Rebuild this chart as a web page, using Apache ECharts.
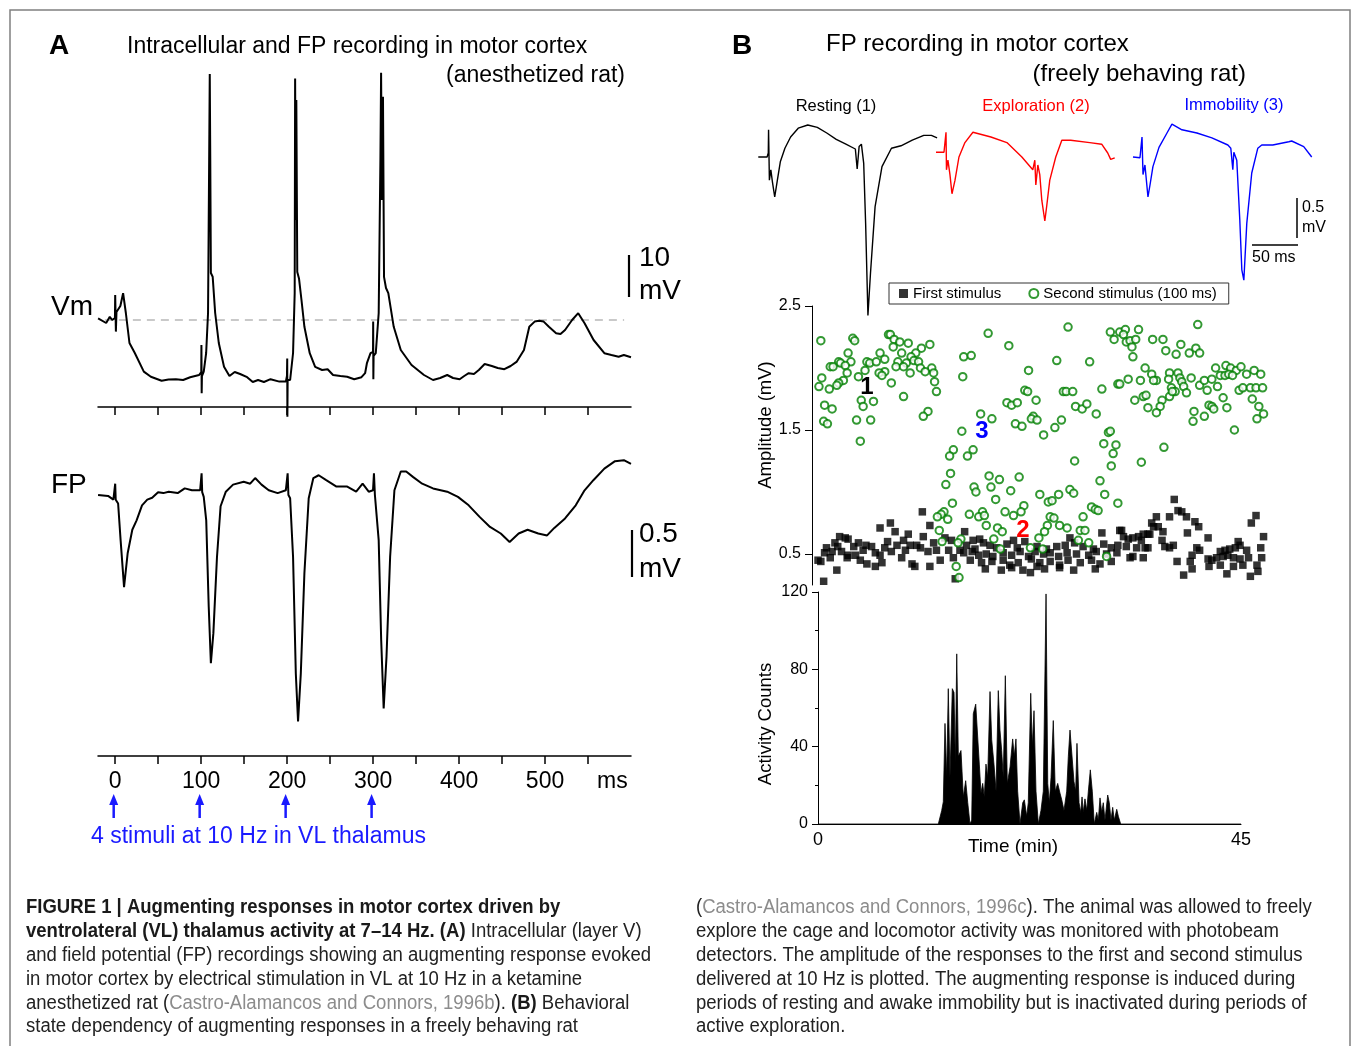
<!DOCTYPE html>
<html><head><meta charset="utf-8">
<script src="https://cdn.jsdelivr.net/npm/echarts@6/dist/echarts.min.js"></script>
<style>html,body{margin:0;padding:0;background:#fff}#c{width:1352px;height:1046px}</style>
</head><body><div id="c"></div>
<script>
// ---------- Panel A data (time in ms, Vm in mV relative to dashed level, FP in mV) ----------
const vmTrace = [[-19.9,0.4],[-10.5,-0.75],[-6.3,0.8],[-3.5,0],[-0.3,0.5],[0,6.25],[0.8,-2.9],[1.5,2],[3.4,1.75],[6,3.5],[9.2,6.7],[12.4,1.75],[16.6,-5.75],[22.8,-8.25],[33.3,-12.9],[41.5,-14.2],[54,-15.2],[62,-14.9],[70.6,-14.8],[79,-15],[87.2,-14.3],[97.6,-13.75],[100.1,-13],[100.3,-6.25],[100.6,-18.3],[100.9,-14],[103,-12.9],[105.8,-8.25],[108,1.75],[109.3,40],[110,61.5],[110.6,40],[111.3,11.75],[113.4,10.8],[116.3,1.75],[120.5,-5.75],[126.6,-11.7],[132.9,-14],[139,-13],[145.3,-13.5],[153.5,-14.3],[160,-15.5],[166.2,-15],[173,-15.5],[180.7,-14.8],[191,-15.4],[198.5,-15.4],[199.8,-14],[200.1,-9.6],[200.3,-24.2],[200.6,-15],[203.5,-15],[206.9,-8.25],[208.8,6.75],[209.3,60.4],[210,25],[210.7,55],[211.8,12],[213.8,10.4],[216.7,5],[220.1,-1.7],[226.3,-8.3],[232.6,-11.7],[240.7,-12.5],[247.1,-12.3],[253.4,-13.75],[262,-14],[269.8,-14.2],[278,-14.8],[286.5,-14.3],[290.7,-13.3],[292.8,-10.8],[294,-10.5],[297,-8.3],[299.9,-8],[300.1,-0.4],[300.3,-14.8],[300.6,-9],[303.1,-8.3],[306.5,1.7],[308.5,40],[309.3,61.8],[310.3,30],[311.5,55.8],[312.7,10.8],[315,8],[317.7,6.7],[324,-1.7],[332.2,-7.5],[344.7,-11.25],[359.2,-13.75],[369.7,-15],[378,-14.5],[386.2,-13.75],[393,-14.5],[400.7,-14.8],[406,-14],[411.2,-13.3],[417.3,-13.5],[423,-12.5],[429.8,-11],[438.1,-11.5],[445,-12],[452.7,-12.3],[460,-11.5],[467.2,-10.4],[475.5,-7.5],[481.7,-1.7],[487.9,-0.4],[493,-0.2],[498.4,-0.4],[504.5,-1.7],[512.9,-3.3],[518,-3.5],[523.3,-2.5],[531.5,0],[538.6,1.7],[546,-0.8],[556.5,-5],[569,-8.3],[577.2,-8.75],[585.6,-9.2],[591.7,-8.75],[600,-9.3]];
const restLevel = [[-12,0],[592,0]];
const fpTrace = [[-19.9,0],[-8.3,-0.01],[-2.1,-0.05],[-0.2,-0.03],[0,0.12],[0.6,-0.05],[3.4,-0.09],[6.3,-0.48],[10.3,-0.98],[14.5,-0.62],[19.9,-0.37],[24.9,-0.27],[31.2,-0.11],[37.3,-0.05],[43,-0.03],[49.9,0.03],[56,0.02],[62.3,0.035],[72.7,0.02],[80.9,0.07],[89.3,0.05],[98.8,0.05],[100.5,0.23],[101.2,0.03],[103,-0.02],[105.9,-0.27],[108.8,-1.19],[111.3,-1.79],[114.2,-1.47],[118.4,-0.66],[122.6,-0.12],[128.7,0.035],[137.1,0.11],[149.5,0.14],[157,0.12],[162.8,0.18],[170.2,0.11],[178.6,0.05],[189,0.02],[198.5,0.05],[200.6,0.23],[201.5,0],[203.5,-0.035],[206.9,-0.66],[210.1,-1.9],[212.7,-2.41],[215.9,-1.9],[220.1,-0.83],[225.1,-0.035],[230.5,0.18],[236.7,0.21],[245,0.16],[257.4,0.09],[269.9,0.09],[280.3,0.035],[287.8,0.12],[294.9,0.035],[299.9,0.05],[301,0.23],[302.1,0],[303.1,-0.02],[306.5,-0.48],[309.4,-1.54],[312.3,-2.27],[315.6,-1.72],[319.8,-0.66],[324.8,0.05],[332.2,0.25],[338.5,0.25],[346.7,0.19],[357.1,0.12],[369.7,0.07],[386.2,0.035],[398.7,-0.02],[411.2,-0.11],[423.6,-0.23],[436,-0.34],[448.5,-0.41],[458.8,-0.5],[469.3,-0.41],[479.7,-0.37],[492.1,-0.41],[502.4,-0.43],[510.8,-0.35],[523.3,-0.25],[535.7,-0.11],[546,0.05],[556.5,0.16],[569,0.28],[581.4,0.36],[591.7,0.37],[600,0.33]];
const stimTimes = [0, 100, 200, 300];
const timeTicksA = [0,50,100,150,200,250,300,350,400,450,500,550];
const timeLabelsA = [0,100,200,300,400,500];

// ---------- Panel B traces (ms from sweep start, mV) ----------
const restingTrace = [[0.3,0],[9.9,0],[11.2,0.05],[11.5,0.34],[12.4,-0.29],[14,-0.16],[15.7,-0.31],[18.2,-0.5],[21.1,-0.29],[24.3,-0.06],[29.3,0.11],[35.5,0.25],[43.8,0.36],[54.2,0.4],[64.6,0.37],[74.9,0.3],[85.2,0.22],[95.7,0.16],[106,0.1],[108,-0.15],[110.1,0.13],[112.6,0.16],[115.1,-0.08],[117.2,-0.83],[119.7,-1.98],[122.5,-1.45],[127.5,-0.62],[135,-0.12],[145.3,0.11],[155.7,0.14],[168,0.21],[180.5,0.27],[188.8,0.27],[195,0.24]];
const explorationTrace = [[0,0.06],[8.7,0.06],[10.9,0.31],[11.4,-0.16],[13,-0.04],[15.2,-0.22],[17.4,-0.46],[20.7,-0.29],[25,0],[31.5,0.18],[40.2,0.31],[59.8,0.25],[77.2,0.18],[93.5,0],[105.4,-0.16],[107.6,-0.04],[108.7,-0.35],[110.9,-0.1],[113,-0.22],[115.2,-0.54],[118.5,-0.8],[120.7,-0.6],[123.9,-0.29],[130.4,0],[137,0.21],[146.7,0.21],[167.4,0.18],[180.4,0.16],[187,0.05],[190.2,-0.03],[194.6,-0.01]];
const immobilityTrace = [[0,0],[7.6,-0.01],[9.8,0.25],[10.9,-0.22],[13,-0.1],[16.3,-0.5],[18.5,-0.35],[21.7,-0.12],[28.3,0.12],[37,0.3],[42.4,0.41],[53.3,0.34],[69.6,0.3],[85.9,0.24],[103.3,0.15],[106.5,0.11],[108.7,-0.16],[109.8,0.06],[113,-0.04],[116.3,-0.79],[118.5,-1.41],[120.7,-1.54],[123.9,-0.83],[129.3,-0.2],[135.9,0.11],[140.2,0.15],[152.2,0.15],[169.6,0.19],[172.8,0.2],[185.9,0.13],[194.6,0]];

// ---------- Panel B amplitudes (time in min, amplitude in mV) ----------
const firstStim = [[11.1,0.84],[7.7,0.75],[6.6,0.71],[11.9,0.73],[8.2,0.68],[9.6,0.66],[2.3,0.64],[2.9,0.63],[3.2,0.62],[1.8,0.59],[4.3,0.59],[9.1,0.61],[11.2,0.64],[12.3,0.59],[0.9,0.55],[3.8,0.56],[5.7,0.56],[7.1,0.55],[8.4,0.57],[10.5,0.57],[13.5,0.63],[14.2,0.61],[0.7,0.51],[1.5,0.52],[2.5,0.52],[3.2,0.49],[4.8,0.53],[6.1,0.51],[7.8,0.52],[9.3,0.53],[10.9,0.55],[12.6,0.53],[13.9,0.53],[15.1,0.53],[0.0,0.45],[0.3,0.44],[1.3,0.47],[3.1,0.47],[4.5,0.45],[5.2,0.42],[6.1,0.40],[6.8,0.43],[8.9,0.47],[10.0,0.42],[10.3,0.40],[11.9,0.40],[13.0,0.45],[14.4,0.47],[2.0,0.37],[0.6,0.28],[14.6,0.30],[4.0,0.49],[5.1,0.57],[6.6,0.49],[7.4,0.60],[9.8,0.57],[11.7,0.52],[2.1,0.56],
[15.6,0.68],[30.2,0.67],[32.1,0.69],[26.8,0.63],[20.8,0.61],[16.5,0.61],[17.2,0.62],
[15.8,0.57],[16.7,0.54],[17.6,0.59],[18.3,0.57],[19.0,0.55],[20.1,0.58],[21.2,0.55],[22.0,0.60],[23.3,0.56],[24.3,0.54],[25.4,0.56],[26.3,0.57],[27.3,0.59],[28.2,0.56],[29.3,0.54],[30.4,0.58],[31.2,0.55],[31.9,0.57],
[15.5,0.51],[16.4,0.52],[17.1,0.49],[17.9,0.50],[18.6,0.48],[19.7,0.51],[20.6,0.49],[21.5,0.52],[22.4,0.48],[23.1,0.52],[24.0,0.50],[24.7,0.51],[25.6,0.48],[26.5,0.51],[27.5,0.50],[28.8,0.49],[29.6,0.52],[30.7,0.50],[31.8,0.51],
[16.2,0.45],[17.4,0.43],[18.5,0.44],[19.7,0.45],[20.4,0.41],[21.3,0.43],[22.7,0.46],[23.6,0.43],[24.7,0.44],[25.7,0.41],[26.6,0.45],[27.9,0.43],[29.1,0.45],[30.0,0.42],[31.2,0.44],
[17.8,0.38],[19.5,0.37],[20.6,0.39],[21.8,0.37],[22.6,0.35],[23.3,0.40],[24.1,0.38],[25.7,0.39],[27.2,0.37],[29.5,0.38],
[37.9,0.94],[38.3,0.85],[38.7,0.84],[39.2,0.80],[37.4,0.80],[36.0,0.80],[40.1,0.76],[40.5,0.72],[35.5,0.75],[35.7,0.72],[36.2,0.72],[36.7,0.68],[32.3,0.69],[32.5,0.64],[34.6,0.66],[35.1,0.66],[35.3,0.66],[33.0,0.62],[33.5,0.63],[34.1,0.64],[34.4,0.61],[39.3,0.67],[41.5,0.63],[36.6,0.61],[36.9,0.56],[37.4,0.55],[37.8,0.57],[46.6,0.81],[46.1,0.75],[47.4,0.64],[47.1,0.55],[44.7,0.60],[44.9,0.57],[44.4,0.55],[43.8,0.54],[43.3,0.53],[42.8,0.52],[45.6,0.53],[32.8,0.56],[33.9,0.55],[34.8,0.55],[35.1,0.55],[40.3,0.55],[40.6,0.53],[39.8,0.49],[39.6,0.44],[41.5,0.46],[41.9,0.45],[42.4,0.47],[43.1,0.48],[43.6,0.49],[44.2,0.47],[44.9,0.46],[45.8,0.47],[47.2,0.47],[33.2,0.47],[33.5,0.48],[34.6,0.47],[38.2,0.44],[41.6,0.40],[42.8,0.41],[43.5,0.34],[44.2,0.40],[45.2,0.41],[46.7,0.41],[46.8,0.36],[46.0,0.32],[38.9,0.33],[39.8,0.38]];
const secondStim = [[0.3,2.22],[3.7,2.24],[3.9,2.22],[7.5,2.27],[7.7,2.27],[8.1,2.23],[8.7,2.21],[9.6,2.20],[11.9,2.19],[8.0,2.17],[3.2,2.12],[6.6,2.12],[8.9,2.12],[11.0,2.16],[10.4,2.12],[9.9,2.09],[7.1,2.07],[2.2,2.05],[2.4,2.04],[3.5,2.05],[5.2,2.05],[5.5,2.04],[6.2,2.05],[8.5,2.05],[9.4,2.04],[10.2,2.06],[10.7,2.05],[1.3,2.01],[1.6,2.01],[2.9,2.02],[8.3,2.01],[9.1,2.01],[10.9,2.00],[12.1,2.00],[5.0,1.98],[7.1,1.97],[6.5,1.96],[3.1,1.96],[9.8,1.96],[11.4,1.97],[12.3,1.96],[4.3,1.93],[6.8,1.94],[0.4,1.92],[2.7,1.90],[2.2,1.88],[12.4,1.89],[0.1,1.85],[2.0,1.86],[1.2,1.83],[7.8,1.88],[12.6,1.81],[4.6,1.74],[4.8,1.69],[5.9,1.73],[9.1,1.77],[0.7,1.70],[1.5,1.67],[11.7,1.65],[11.2,1.61],[4.1,1.58],[5.6,1.58],[0.6,1.57],[1.0,1.55],[4.5,1.41],
[15.5,2.09],[15.4,1.93],[15.3,1.49],[14.4,1.34],[14.0,1.29],[14.1,1.15],[13.6,1.06],[14.3,0.91],[13.4,0.84],[13.1,0.82],[12.7,0.80],[13.8,0.78],[12.9,0.69],[13.2,0.60],[15.2,0.62],[14.9,0.59],[14.7,0.40],[15.0,0.31],
[18.1,2.28],[26.6,2.33],[31.1,2.29],[31.5,2.23],[20.3,2.18],[16.3,2.10],[25.4,2.06],[28.9,2.05],[22.4,1.98],[22.0,1.82],[22.3,1.81],[26.1,1.81],[26.4,1.81],[27.1,1.81],[30.2,1.83],[31.9,1.87],[20.1,1.72],[20.6,1.70],[21.2,1.72],[23.2,1.74],[27.4,1.69],[28.1,1.67],[28.6,1.71],[29.6,1.63],[17.3,1.63],[18.5,1.59],[22.9,1.61],[22.7,1.59],[23.3,1.58],[25.9,1.58],[21.0,1.55],[21.7,1.53],[25.2,1.52],[24.0,1.46],[30.9,1.48],[30.4,1.39],[31.7,1.38],[16.5,1.34],[15.9,1.29],[31.4,1.31],[27.3,1.25],[31.2,1.21],[18.2,1.13],[21.4,1.12],[19.3,1.10],[30.0,1.09],[16.6,1.04],[16.8,1.00],[18.4,1.04],[20.5,1.01],[26.8,1.02],[27.2,0.99],[23.6,0.98],[25.6,0.98],[24.5,0.92],[24.9,0.93],[30.5,0.98],[18.9,0.94],[31.9,0.91],[21.9,0.89],[29.1,0.88],[29.5,0.86],[29.8,0.85],[16.1,0.82],[17.5,0.84],[17.1,0.80],[17.7,0.81],[19.9,0.84],[20.8,0.81],[21.6,0.84],[24.7,0.80],[25.1,0.79],[28.2,0.80],[17.9,0.73],[19.1,0.71],[25.7,0.73],[24.4,0.73],[26.5,0.71],[19.6,0.68],[24.1,0.68],[27.9,0.69],[28.4,0.69],[18.7,0.62],[23.5,0.63],[27.7,0.61],[28.8,0.59],[19.4,0.54],[22.6,0.55],[23.9,0.54],[30.7,0.48],
[40.4,2.35],[32.1,2.29],[32.7,2.31],[32.5,2.27],[34.1,2.31],[32.8,2.21],[33.2,2.22],[33.8,2.23],[33.4,2.17],[33.5,2.09],[35.6,2.23],[36.7,2.23],[38.6,2.19],[37.0,2.14],[38.1,2.11],[39.5,2.12],[40.2,2.16],[40.6,2.12],[34.8,2.00],[35.5,1.95],[36.0,1.90],[35.7,1.90],[37.4,1.96],[38.3,1.96],[38.5,1.92],[39.7,1.92],[42.3,2.00],[43.4,2.02],[43.9,2.00],[44.5,1.98],[45.0,2.01],[42.8,1.94],[43.3,1.94],[43.7,1.95],[44.1,1.94],[45.6,1.95],[46.4,1.98],[47.1,1.95],[32.1,1.87],[33.0,1.91],[34.3,1.90],[37.3,1.91],[37.6,1.84],[38.0,1.81],[38.7,1.89],[38.9,1.85],[39.2,1.80],[40.6,1.86],[41.1,1.90],[41.4,1.82],[41.9,1.91],[42.5,1.85],[43.1,1.76],[44.8,1.82],[45.2,1.84],[46.0,1.84],[46.6,1.84],[47.3,1.84],[33.7,1.74],[34.6,1.77],[34.9,1.78],[36.6,1.74],[36.4,1.69],[36.0,1.64],[35.1,1.68],[37.4,1.77],[37.7,1.81],[40.0,1.65],[39.9,1.57],[41.1,1.61],[41.6,1.70],[41.9,1.69],[42.1,1.67],[43.5,1.68],[46.2,1.75],[46.9,1.69],[47.4,1.63],[46.7,1.59],[44.3,1.50],[31.1,1.49],[36.8,1.36],[34.4,1.24]];
const ampTicks = [0.5, 1.5, 2.5];

// ---------- Activity counts (time in min, counts) ----------
const activity = [[0,0],[12.8,0],[12.90,0],[13.16,7],[13.33,11.5],[13.51,52],[13.69,24.5],[13.86,70],[14.04,24],[14.29,70],[14.47,68],[14.61,31.5],[14.76,88],[14.93,35],[15.21,38],[15.46,14],[15.71,22.4],[15.93,11],[16.17,0],[16.35,2],[16.52,57],[16.78,62],[16.99,62],[17.16,31],[17.34,16],[17.52,21],[17.69,14],[17.87,31],[18.05,24],[18.30,68.5],[18.48,43.5],[18.72,31],[18.94,17],[19.18,69],[19.36,48.6],[19.54,38],[19.71,24],[19.93,76.7],[20.14,21],[20.43,29.5],[20.71,44],[20.88,35],[21.06,44],[21.24,17],[21.49,0],[21.78,11],[21.95,12.5],[22.20,4],[22.37,11],[22.63,67.6],[22.80,40],[22.98,58.6],[23.19,17],[23.44,0],[23.72,7],[23.97,17],[24.26,119],[24.44,21],[24.61,11],[24.79,24],[25.03,53.5],[25.24,17],[25.50,21],[25.74,16],[25.93,12.5],[26.17,7],[26.46,17],[26.63,35],[26.81,48.6],[26.99,48],[27.23,22],[27.41,17],[27.55,41.7],[27.77,11],[27.95,6],[28.09,14],[28.22,6],[28.40,13],[28.59,7],[28.76,17],[28.97,28],[29.18,17],[29.39,0],[29.65,6],[29.82,2],[30.00,13.5],[30.18,6],[30.35,11],[30.53,2],[30.82,15],[30.99,11],[31.17,2],[31.35,8.6],[31.52,2],[31.78,7.6],[31.95,4],[32.20,0],[45,0]];

// ---------- chart ----------
const F = '"Liberation Sans", Arial, sans-serif';
const chart = echarts.init(document.getElementById('c'), null, {renderer: 'canvas'});

function hidAx(gi, min, max) {
  return {type: 'value', gridIndex: gi, min: min, max: max, show: false, axisLine: {onZero: false}, splitLine: {show: false}};
}
const blackLine = {color: '#000', width: 1.5};

function txt(x, y, text, size, opts) {
  opts = opts || {};
  return {
    type: 'text', x: x, y: y, silent: true, rotation: opts.rot || 0, scaleX: opts.sx || 1,
    style: {
      text: text, fontSize: size + 'px', fontFamily: F, fontWeight: opts.bold ? 'bold' : 'normal',
      fill: opts.color || '#000', align: opts.align || 'left', textAlign: opts.align || 'left',
      verticalAlign: 'middle', textVerticalAlign: 'middle', rich: opts.rich
    }
  };
}
function seg(x1, y1, x2, y2, w, c) {
  return {type: 'line', silent: true, shape: {x1: x1, y1: y1, x2: x2, y2: y2}, style: {stroke: c || '#000', lineWidth: w || 2}};
}

const capSize = 19.5;
const capRich = {
  b: {fontWeight: 'bold', fontSize: capSize + 'px', fontFamily: F, fill: '#1a1a1a'},
  g: {fontSize: capSize + 'px', fontFamily: F, fill: '#8c8c8c'}
};
const capLeft = [
  '{b|FIGURE 1 | Augmenting responses in motor cortex driven by}',
  '{b|ventrolateral (VL) thalamus activity at 7–14 Hz. (A)} Intracellular (layer V)',
  'and field potential (FP) recordings showing an augmenting response evoked',
  'in motor cortex by electrical stimulation in VL at 10 Hz in a ketamine',
  'anesthetized rat ({g|Castro-Alamancos and Connors, 1996b}). {b|(B)} Behavioral',
  'state dependency of augmenting responses in a freely behaving rat'
];
const capRight = [
  '({g|Castro-Alamancos and Connors, 1996c}). The animal was allowed to freely',
  'explore the cage and locomotor activity was monitored with photobeam',
  'detectors. The amplitude of the responses to the first and second stimulus',
  'delivered at 10 Hz is plotted. The augmenting response is induced during',
  'periods of resting and awake immobility but is inactivated during periods of',
  'active exploration.'
];
const graphics = [
  {type: 'rect', silent: true, shape: {x: 10, y: 10, width: 1340, height: 1070}, style: {fill: 'none', stroke: '#808080', lineWidth: 1.5}},
  txt(49, 46, 'A', 28, {bold: true}),
  txt(127, 47, 'Intracellular and FP recording in motor cortex', 23),
  txt(625, 76, '(anesthetized rat)', 23, {align: 'right'}),
  txt(51, 307, 'Vm', 28),
  txt(51, 485, 'FP', 28),
  seg(629, 255, 629, 297, 2.2),
  txt(639, 258, '10', 28),
  txt(639, 291, 'mV', 28),
  seg(632, 530, 632, 577, 2.2),
  txt(639, 534, '0.5', 28),
  txt(639, 569, 'mV', 28),
  txt(597, 782, 'ms', 23),
  txt(91, 837, '4 stimuli at 10 Hz in VL thalamus', 23, {color: '#1a1aff'}),
  txt(732, 46, 'B', 28, {bold: true}),
  txt(826, 44, 'FP recording in motor cortex', 24),
  txt(1246, 74, '(freely behaving rat)', 24, {align: 'right'}),
  txt(836, 106, 'Resting (1)', 16.5, {align: 'center'}),
  txt(1036, 106, 'Exploration (2)', 16.5, {align: 'center', color: '#ff0000'}),
  txt(1234, 105, 'Immobility (3)', 16.5, {align: 'center', color: '#0000ff'}),
  seg(1297, 198, 1297, 238, 1.5),
  seg(1252, 245, 1298, 245, 1.5),
  txt(1302, 208, '0.5', 16),
  txt(1302, 228, 'mV', 16),
  txt(1252, 258, '50 ms', 16),
  txt(766, 425, 'Amplitude (mV)', 18.5, {align: 'center', rot: Math.PI / 2}),
  txt(766, 724, 'Activity Counts', 18.5, {align: 'center', rot: Math.PI / 2}),
  txt(1013, 847, 'Time (min)', 19, {align: 'center'}),
  txt(867, 387, '1', 24, {bold: true, align: 'center'}),
  txt(982, 431, '3', 24, {bold: true, align: 'center', color: '#0000ff'}),
  txt(1023, 530, '2', 24, {bold: true, align: 'center', color: '#ff0000'})
];
capLeft.forEach((t, i) => graphics.push(txt(26, 908 + i * 23.8, t, capSize, {rich: capRich, sx: 0.95, color: '#222'})));
capRight.forEach((t, i) => graphics.push(txt(696, 908 + i * 23.8, t, capSize, {rich: capRich, sx: 0.95, color: '#222'})));

const option = {
  animation: false,
  backgroundColor: '#fff',
  textStyle: {fontFamily: F},
  grid: [
    {left: 98, top: 60, width: 533, height: 347},
    {left: 98, top: 440, width: 533, height: 316},
    {left: 758, top: 117, width: 180, height: 200},
    {left: 936, top: 117, width: 180, height: 200},
    {left: 1133, top: 117, width: 180, height: 200},
    {left: 812, top: 306, width: 460, height: 279},
    {left: 818, top: 592, width: 423, height: 232}
  ].map(g => Object.assign(g, {containLabel: false, outerBoundsMode: 'none', show: false})),
  xAxis: [
    {type: 'value', gridIndex: 0, min: -20, max: 600,
     axisLine: {show: true, onZero: false, lineStyle: blackLine},
     axisTick: {show: true, customValues: timeTicksA, length: 8, lineStyle: blackLine},
     axisLabel: {show: false}, splitLine: {show: false}},
    {type: 'value', gridIndex: 1, min: -20, max: 600,
     axisLine: {show: true, onZero: false, lineStyle: blackLine},
     axisTick: {show: true, customValues: timeTicksA, length: 8, lineStyle: blackLine},
     axisLabel: {show: true, customValues: timeLabelsA, fontSize: 23, color: '#000', fontFamily: F, margin: 14},
     splitLine: {show: false}},
    hidAx(2, 0, 196), hidAx(3, 0, 196), hidAx(4, 0, 196),
    hidAx(5, -0.64, 48.3),
    {type: 'value', gridIndex: 6, min: 0, max: 45, interval: 45,
     axisLine: {show: true, onZero: false, lineStyle: {color: '#000', width: 1}},
     axisTick: {show: false},
     axisLabel: {show: true, fontSize: 18, color: '#000', fontFamily: F, margin: 7},
     splitLine: {show: false}}
  ],
  yAxis: [
    hidAx(0, -21.75, 65),
    hidAx(1, -2.777, 0.585),
    hidAx(2, -2, 0.5), hidAx(3, -2, 0.5), hidAx(4, -2, 0.5),
    {type: 'value', gridIndex: 5, min: 0.25, max: 2.5,
     axisLine: {show: true, onZero: false, lineStyle: {color: '#000', width: 1}},
     axisTick: {show: true, customValues: ampTicks, length: 7, lineStyle: {color: '#000'}},
     axisLabel: {show: true, customValues: ampTicks, fontSize: 16, color: '#000', fontFamily: F, margin: 11,
                 formatter: v => v.toFixed(1)},
     splitLine: {show: false}},
    {type: 'value', gridIndex: 6, min: 0, max: 120, interval: 40,
     axisLine: {show: true, onZero: false, lineStyle: {color: '#000', width: 1}},
     axisTick: {show: true, length: 6, lineStyle: {color: '#000'}},
     minorTick: {show: true, splitNumber: 2, length: 3, lineStyle: {color: '#000'}},
     axisLabel: {show: true, fontSize: 16, color: '#000', fontFamily: F, margin: 10},
     splitLine: {show: false}}
  ],
  legend: {
    data: [{name: 'First stimulus', icon: 'rect'}, {name: 'Second stimulus (100 ms)', icon: 'emptyCircle'}],
    left: 889, top: 283, orient: 'horizontal', itemWidth: 9, itemHeight: 9, itemGap: 27,
    padding: [3, 12, 3, 10], borderColor: '#333', borderWidth: 1, backgroundColor: '#fff',
    textStyle: {fontSize: 15, color: '#000', fontFamily: F}, selectedMode: false
  },
  series: [
    {type: 'line', name: 'rest', xAxisIndex: 0, yAxisIndex: 0, data: restLevel, symbol: 'none', silent: true,
     lineStyle: {color: '#b8b8b8', width: 1.5, type: [8, 6]}, z: 1},
    {type: 'line', name: 'Vm', xAxisIndex: 0, yAxisIndex: 0, data: vmTrace, symbol: 'none', clip: false, silent: true,
     lineStyle: {color: '#000', width: 2}, z: 3},
    {type: 'line', name: 'FP', xAxisIndex: 1, yAxisIndex: 1, data: fpTrace, symbol: 'none', clip: false, silent: true,
     lineStyle: {color: '#000', width: 2}, z: 3},
    {type: 'custom', name: 'stim', xAxisIndex: 1, yAxisIndex: 1, data: stimTimes.map(t => [t, 0]), silent: true, clip: false,
     renderItem: function (params, api) {
       const p = api.coord([api.value(0), api.value(1)]);
       const cs = params.coordSys;
       const base = cs.y + cs.height;
       const x = p[0] - 1.5;
       return {type: 'group', children: [
         {type: 'line', shape: {x1: x, y1: base + 62, x2: x, y2: base + 46}, style: {stroke: '#1a1aff', lineWidth: 2.5}},
         {type: 'polygon', shape: {points: [[x - 4.5, base + 49], [x + 4.5, base + 49], [x, base + 38]]}, style: {fill: '#1a1aff'}}
       ]};
     }},
    {type: 'line', name: 'Resting (1)', xAxisIndex: 2, yAxisIndex: 2, data: restingTrace, symbol: 'none', clip: false, silent: true,
     lineStyle: {color: '#000', width: 1.4}},
    {type: 'line', name: 'Exploration (2)', xAxisIndex: 3, yAxisIndex: 3, data: explorationTrace, symbol: 'none', clip: false, silent: true,
     lineStyle: {color: '#ff0000', width: 1.4}},
    {type: 'line', name: 'Immobility (3)', xAxisIndex: 4, yAxisIndex: 4, data: immobilityTrace, symbol: 'none', clip: false, silent: true,
     lineStyle: {color: '#0000ff', width: 1.4}},
    {type: 'scatter', name: 'First stimulus', xAxisIndex: 5, yAxisIndex: 5, data: firstStim, symbol: 'rect', symbolSize: 7.5,
     itemStyle: {color: '#000'}, silent: true, z: 2},
    {type: 'scatter', name: 'Second stimulus (100 ms)', xAxisIndex: 5, yAxisIndex: 5, data: secondStim, symbol: 'emptyCircle', symbolSize: 7.5,
     itemStyle: {color: '#007f00', borderColor: '#007f00', borderWidth: 1.8}, silent: true, z: 3},
    {type: 'line', name: 'activity', xAxisIndex: 6, yAxisIndex: 6, data: activity, symbol: 'none', silent: true,
     lineStyle: {color: '#000', width: 0.8}, areaStyle: {color: '#000', opacity: 1}}
  ],
  graphic: graphics
};
chart.setOption(option);
</script>
</body></html>
